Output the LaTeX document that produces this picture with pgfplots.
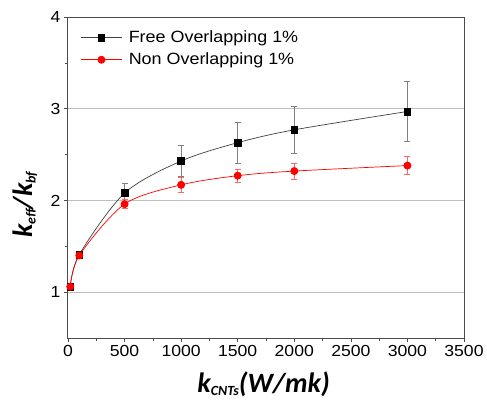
\documentclass[border=0pt]{standalone}
\usepackage{pgfplots}
\pgfplotsset{compat=1.18}
\usepackage{fontspec}
\setmainfont{Liberation Sans}[FakeStretch=1.1]
\newfontfamily\labfont{Carlito}[BoldItalicFont={* Bold Italic}]
\newcommand\lab[1]{{\labfont\bfseries\itshape\fontsize{28}{28}\selectfont #1}}
\newcommand\sub[1]{\raisebox{-0.12em}{\fontsize{14}{14}\selectfont #1}}
\begin{document}
\begin{tikzpicture}
\path[use as bounding box] (-68pt,-61pt) rectangle (419pt,338pt);
\begin{axis}[
  at={(0,0)}, anchor=south west,
  scale only axis, width=396pt, height=321pt,
  xmin=0, xmax=3500, ymin=0.5, ymax=4,
  xtick={0,500,...,3500}, ytick={1,2,3,4},
  minor x tick num=1, minor y tick num=1,
  tick align=outside,
  xtick pos=bottom, ytick pos=left,
  major tick length=4pt, minor tick length=2.5pt,
  tick style={black!70, line width=0.6pt},
  axis line style={black!70, line width=1pt},
  ymajorgrids, grid style={black!25, line width=0.6pt},
  /pgf/number format/assume math mode=true,
  ticklabel style={font=\fontsize{16}{16}\selectfont},
  scaled x ticks=false,
  xticklabel style={/pgf/number format/1000 sep={}},
  xlabel={\lab{k\sub{CNTs}(W/mk)}},
  xlabel style={at={(axis description cs:0.494,-0.170)}, anchor=base},
  ylabel={\lab{k\sub{eff}/k\sub{bf}}},
  ylabel style={at={(axis description cs:-0.109,0.415)}, anchor=center},
  legend style={draw=none, fill=none, at={(rel axis cs:0.03,0.967)}, anchor=north west,
    font=\fontsize{16.3}{16.3}\selectfont, row sep=5pt, inner sep=1pt},
  legend cell align=left,
  legend image code/.code={\draw[mark repeat=2,mark phase=2] plot coordinates {(0pt,0pt)(20pt,0pt)(40pt,0pt)};\path (45pt,0pt);},
]
\addplot[black!75, line width=0.7pt, smooth, tension=0.5,
  mark=square*, mark size=3.4pt, mark options={black, fill=black, solid},
  error bars/.cd, y dir=both, y explicit,
  error bar style={black!50, line width=0.6pt},
  error mark options={rotate=90, black!50, mark size=3pt, line width=0.6pt}]
  table[x=x, y=y, y error=e] {
x y e
20 1.06 0
100 1.41 0.03
500 2.08 0.11
1000 2.43 0.17
1500 2.63 0.22
2000 2.77 0.26
3000 2.97 0.33
};
\addlegendentry{Free Overlapping 1\%}
\addplot[red, line width=0.7pt, smooth, tension=0.5,
  mark=*, mark size=3.6pt, mark options={red, fill=red, solid},
  error bars/.cd, y dir=both, y explicit,
  error bar style={red!60, line width=0.6pt},
  error mark options={rotate=90, red!60, mark size=3pt, line width=0.6pt}]
  table[x=x, y=y, y error=e] {
x y e
20 1.06 0
100 1.40 0.03
500 1.96 0.05
1000 2.17 0.08
1500 2.27 0.07
2000 2.32 0.09
3000 2.38 0.10
};
\addlegendentry{Non Overlapping 1\%}
\end{axis}
\end{tikzpicture}
\end{document}
